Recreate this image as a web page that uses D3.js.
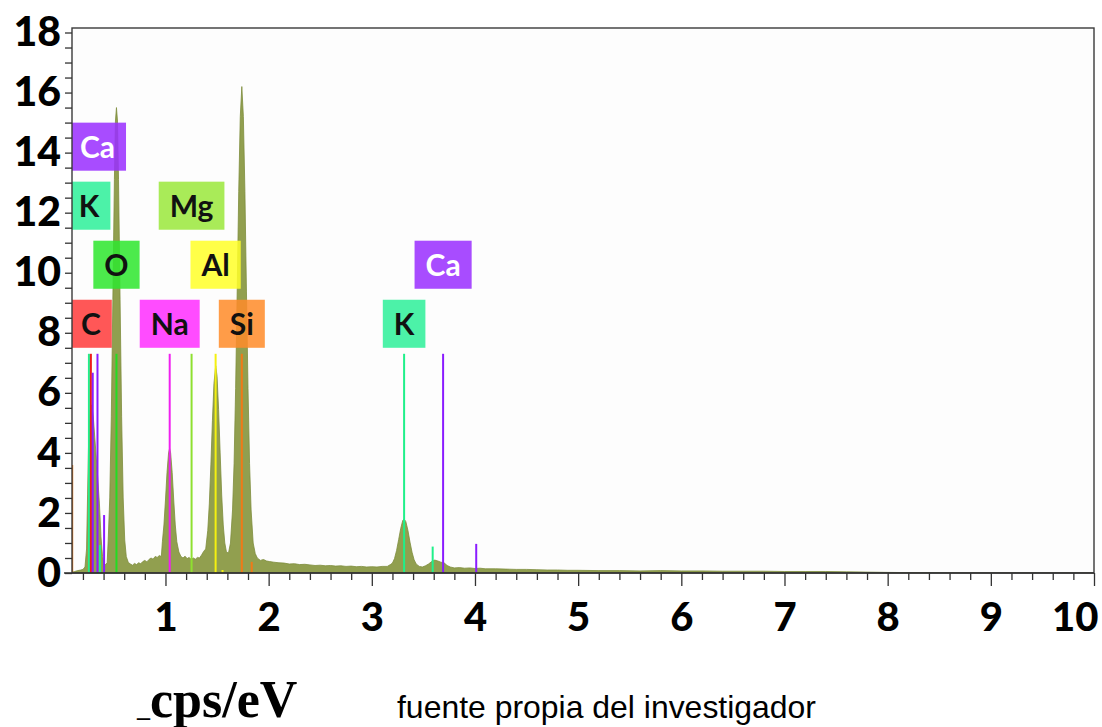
<!DOCTYPE html>
<html>
<head>
<meta charset="utf-8">
<script src="https://cdn.jsdelivr.net/npm/d3@7"></script>
<style>
  html, body { margin: 0; padding: 0; background: #ffffff; }
  svg { display: block; }
</style>
</head>
<body>
<svg id="chart" width="1102" height="727"></svg>
<script>
// EDS spectrum: energy (keV) vs intensity (cps/eV)
const energyKeV = [
  0.09, 0.12, 0.15, 0.18, 0.20, 0.22, 0.235, 0.245, 0.255, 0.27, 0.285, 0.30, 0.315, 0.33, 0.345, 0.36, 0.375, 0.39, 0.405, 0.42, 0.435,
  0.445, 0.46, 0.475, 0.49, 0.505, 0.515, 0.525, 0.535, 0.545, 0.56, 0.575, 0.59, 0.605, 0.62, 0.64,
  0.66, 0.68, 0.70, 0.72, 0.74, 0.76, 0.78, 0.80, 0.82, 0.84, 0.86, 0.88, 0.90, 0.92, 0.94, 0.96,
  0.97, 0.985, 1.00, 1.015, 1.03, 1.04, 1.05, 1.065, 1.08, 1.095, 1.11, 1.13, 1.15,
  1.17, 1.19, 1.21, 1.23, 1.25, 1.27, 1.29, 1.31, 1.33, 1.35, 1.37,
  1.39, 1.41, 1.425, 1.44, 1.455, 1.47, 1.487, 1.50, 1.515, 1.53, 1.545, 1.56, 1.575, 1.59,
  1.61, 1.63, 1.65, 1.665, 1.68, 1.695, 1.71, 1.725, 1.74, 1.755, 1.77, 1.785, 1.80, 1.815, 1.83, 1.85, 1.87, 1.89,
  1.92, 1.95, 1.98, 2.01, 2.05, 2.10, 2.15, 2.20, 2.25, 2.30, 2.35, 2.40, 2.45, 2.50, 2.55, 2.60, 2.65, 2.70, 2.75, 2.80,
  2.85, 2.90, 2.95, 3.00, 3.05, 3.10, 3.15, 3.18,
  3.20, 3.22, 3.24, 3.26, 3.28, 3.30, 3.313, 3.33, 3.35, 3.37, 3.39, 3.41, 3.43, 3.46, 3.49, 3.52, 3.55, 3.58, 3.61, 3.64,
  3.67, 3.70, 3.73, 3.76, 3.80, 3.85, 3.90, 3.95, 4.00, 4.05, 4.10, 4.20, 4.30, 4.40, 4.50, 4.60, 4.70, 4.80, 4.90, 5.00,
  5.20, 5.40, 5.60, 5.80, 6.00, 6.20, 6.40, 6.60, 6.80, 7.00, 7.20, 7.40, 7.60, 7.80, 8.00, 8.30, 8.60, 10.0
];
const countsPerEV = [
  0.02, 0.05, 0.08, 0.10, 0.12, 0.20, 0.8, 2.6, 4.4, 5.4, 5.6, 5.2, 4.5, 3.8, 3.1, 2.3, 1.2, 0.55, 0.30, 0.28, 0.35,
  1.1, 2.5, 5.2, 9.1, 13.1, 15.05, 15.5, 15.05, 13.1, 9.1, 5.2, 2.5, 1.1, 0.55, 0.35,
  0.30, 0.26, 0.32, 0.28, 0.34, 0.31, 0.38, 0.42, 0.37, 0.45, 0.50, 0.46, 0.55, 0.52, 0.58, 0.55,
  1.04, 1.6, 2.43, 3.35, 4.0, 4.15, 4.0, 3.35, 2.43, 1.6, 1.04, 0.70, 0.55,
  0.50, 0.56, 0.48, 0.52, 0.45, 0.50, 0.46, 0.52, 0.50, 0.60, 0.72,
  0.80, 1.42, 2.3, 3.6, 5.07, 6.31, 6.9, 6.55, 5.44, 4.0, 2.6, 1.6, 1.0, 0.72,
  0.65, 1.0, 2.1, 3.65, 6.15, 9.36, 12.7, 15.2, 16.2, 15.2, 12.7, 9.36, 6.15, 3.65, 2.1, 1.0, 0.65, 0.50,
  0.42, 0.45, 0.40, 0.38, 0.36, 0.34, 0.33, 0.30, 0.31, 0.28, 0.29, 0.27, 0.25, 0.26, 0.24, 0.25, 0.23, 0.24, 0.22, 0.23,
  0.21, 0.22, 0.20, 0.21, 0.20, 0.22, 0.22, 0.28,
  0.33, 0.48, 0.75, 1.11, 1.48, 1.75, 1.8, 1.71, 1.42, 1.03, 0.69, 0.44, 0.30, 0.22, 0.20, 0.24, 0.30, 0.38, 0.43, 0.40,
  0.36, 0.34, 0.25, 0.20, 0.17, 0.18, 0.16, 0.17, 0.15, 0.16, 0.14, 0.14, 0.13, 0.12, 0.12, 0.11, 0.10, 0.10, 0.09, 0.09,
  0.08, 0.08, 0.07, 0.08, 0.07, 0.07, 0.06, 0.06, 0.06, 0.05, 0.05, 0.05, 0.04, 0.03, 0.02, 0.01, 0.0, 0.0
];

// Characteristic X-ray lines (element, energy keV, marker height)
const lineElements = ["Si", "K", "C", "Ca", "Ca", "K", "Ca", "O", "Na", "Mg", "Al", "Al", "Si", "Si", "K", "K", "Ca", "Ca"];
const lineEnergies = [0.096, 0.258, 0.277, 0.295, 0.341, 0.365, 0.405, 0.525, 1.041, 1.253, 1.486, 1.553, 1.740, 1.836, 3.313, 3.590, 3.691, 4.012];
const lineHeights  = [3.6, 7.3, 7.3, 6.67, 7.3, 0.93, 1.93, 7.3, 7.3, 7.3, 7.3, 0.1, 7.3, 0.37, 7.3, 0.88, 7.3, 0.97];

// Element tags: element, energy keV, stacking row
const labelElements = ["C", "Na", "Si", "K", "O", "Al", "Ca", "K", "Mg", "Ca"];
const labelEnergies = [0.277, 1.041, 1.740, 3.313, 0.525, 1.486, 3.691, 0.260, 1.253, 0.341];
const labelRows     = [0, 0, 0, 0, 1, 1, 1, 2, 2, 3];

// Axis ticks
const xTickLabels = [1, 2, 3, 4, 5, 6, 7, 8, 9, 10];
const yTickLabels = [0, 2, 4, 6, 8, 10, 12, 14, 16, 18];

const elementColor = {
  C:  "#ff3b3b",
  O:  "#2ee62e",
  Na: "#ff2eff",
  Mg: "#9be83c",
  Al: "#ffff2a",
  Si: "#ff8c2a",
  K:  "#2ef09a",
  Ca: "#9a2eff"
};
const lineColor = {
  C:  "#ee1c1c",
  O:  "#22dd22",
  Na: "#f020f0",
  Mg: "#8ee030",
  Al: "#f4f010",
  Si: "#f07a18",
  K:  "#1ff08a",
  Ca: "#8a1cff"
};

(function draw() {
  const svg = d3.select("#chart");
  const pLeft = 72, pRight = 1094, pTop = 28, pBottom = 573;

  const x = d3.scaleLinear().domain([0.094, 10]).range([pLeft, pRight]);
  const y = d3.scaleLinear().domain([0, 18.15]).range([pBottom, pTop]);

  svg.append("defs").append("clipPath").attr("id", "plotClip")
    .append("rect").attr("x", pLeft).attr("y", pTop).attr("width", pRight - pLeft).attr("height", pBottom - pTop);

  svg.append("rect").attr("x", pLeft).attr("y", pTop).attr("width", pRight - pLeft).attr("height", pBottom - pTop)
    .attr("fill", "#fdfdfd");

  const plot = svg.append("g").attr("clip-path", "url(#plotClip)");

  // Spectrum
  const spectrum = energyKeV.map((e, i) => ({ e, c: countsPerEV[i] }));
  const area = d3.area()
    .x(d => x(d.e))
    .y0(y(0))
    .y1(d => y(d.c));
  plot.append("path")
    .datum(spectrum)
    .attr("d", area)
    .attr("fill", "#8b9a46")
    .attr("fill-opacity", 0.95)
    .attr("stroke", "#7d8d3c")
    .attr("stroke-width", 0.8);

  // Element line markers
  plot.selectAll("line.marker")
    .data(lineEnergies.map((e, i) => ({ el: lineElements[i], e, h: lineHeights[i] })))
    .join("line")
    .attr("class", "marker")
    .attr("x1", d => x(d.e)).attr("x2", d => x(d.e))
    .attr("y1", y(0)).attr("y2", d => y(d.h))
    .attr("stroke", d => lineColor[d.el])
    .attr("stroke-width", 2);

  // Element tags
  const rowBase = 7.5, rowStep = 1.966, boxSpan = 1.6, padX = 11;
  const tags = plot.selectAll("g.tag")
    .data(labelElements.map((el, i) => ({ el, e: labelEnergies[i], row: labelRows[i] })))
    .join("g")
    .attr("class", "tag");

  tags.each(function (d) {
    const g = d3.select(this);
    const yLow = y(rowBase + d.row * rowStep);
    const yHigh = y(rowBase + d.row * rowStep + boxSpan);
    const cx = x(d.e);
    const rect = g.append("rect");
    const t = g.append("text")
      .attr("x", cx)
      .attr("y", (yLow + yHigh) / 2)
      .attr("dy", "0.37em")
      .attr("text-anchor", "middle")
      .attr("font-family", "Lato, 'Open Sans', sans-serif")
      .attr("font-weight", 700)
      .attr("font-size", 30)
      .attr("fill", d.el === "Ca" ? "#ffffff" : "#111111")
      .text(d.el);
    const w = t.node().getComputedTextLength() + 2 * padX;
    rect.attr("x", cx - w / 2).attr("y", yHigh).attr("width", w).attr("height", yLow - yHigh)
      .attr("fill", elementColor[d.el]).attr("fill-opacity", 0.86);
  });

  // Frame
  svg.append("rect").attr("x", pLeft).attr("y", pTop).attr("width", pRight - pLeft).attr("height", pBottom - pTop)
    .attr("fill", "none").attr("stroke", "#3a3a3a").attr("stroke-width", 1.4);

  // X axis: minor ticks every 0.2 keV, labelled ticks every 1 keV
  const tickFont = "Lato, 'Open Sans', sans-serif";
  const xMinor = d3.range(1, 50).map(i => +(i * 0.2).toFixed(1)).filter(v => !Number.isInteger(v));
  svg.append("g").attr("transform", `translate(0,${pBottom})`)
    .call(d3.axisBottom(x).tickValues(xMinor).tickSize(7).tickFormat(""))
    .call(g => g.select(".domain").remove())
    .call(g => g.selectAll(".tick line").attr("stroke", "#333").attr("stroke-width", 1.3));

  const xAxis = svg.append("g").attr("transform", `translate(0,${pBottom})`)
    .call(d3.axisBottom(x).tickValues(xTickLabels).tickSize(13).tickPadding(17).tickFormat(d3.format("d")))
    .call(g => g.select(".domain").remove())
    .call(g => g.selectAll(".tick line").attr("stroke", "#333").attr("stroke-width", 1.3));
  xAxis.selectAll(".tick text")
    .attr("font-family", tickFont).attr("font-weight", 900).attr("font-size", 40).attr("fill", "#000")
    .filter(d => d === 10).attr("text-anchor", "end").attr("dx", 4);

  svg.append("line").attr("x1", 64).attr("x2", pRight).attr("y1", pBottom).attr("y2", pBottom)
    .attr("stroke", "#333").attr("stroke-width", 1.5);

  // Y axis: minor ticks every 0.5, labels every 2
  const yTicks = d3.range(0, 37).map(i => i * 0.5);
  const yAxis = svg.append("g").attr("transform", `translate(${pLeft},0)`)
    .call(d3.axisLeft(y).tickValues(yTicks).tickSize(7).tickPadding(4)
      .tickFormat(d => yTickLabels.includes(d) ? d3.format("d")(d) : ""))
    .call(g => g.select(".domain").remove())
    .call(g => g.selectAll(".tick line").attr("stroke", "#333").attr("stroke-width", 1.3));
  yAxis.selectAll(".tick text")
    .attr("font-family", tickFont).attr("font-weight", 900).attr("font-size", 41).attr("fill", "#000");

  // Captions
  const unit = svg.append("text")
    .attr("x", 137).attr("y", 717)
    .attr("font-family", "'Liberation Serif', 'Times New Roman', serif")
    .attr("font-weight", 700)
    .attr("fill", "#000");
  unit.append("tspan").attr("font-size", 26).attr("dy", -1).text("_");
  unit.append("tspan").attr("font-size", 52).attr("dy", 1).text("cps/eV");

  svg.append("text")
    .attr("x", 397).attr("y", 718)
    .attr("font-family", "'Liberation Sans', Arial, sans-serif")
    .attr("font-size", 32)
    .attr("textLength", 419)
    .attr("lengthAdjust", "spacingAndGlyphs")
    .attr("fill", "#000")
    .text("fuente propia del investigador");
})();
</script>
</body>
</html>
